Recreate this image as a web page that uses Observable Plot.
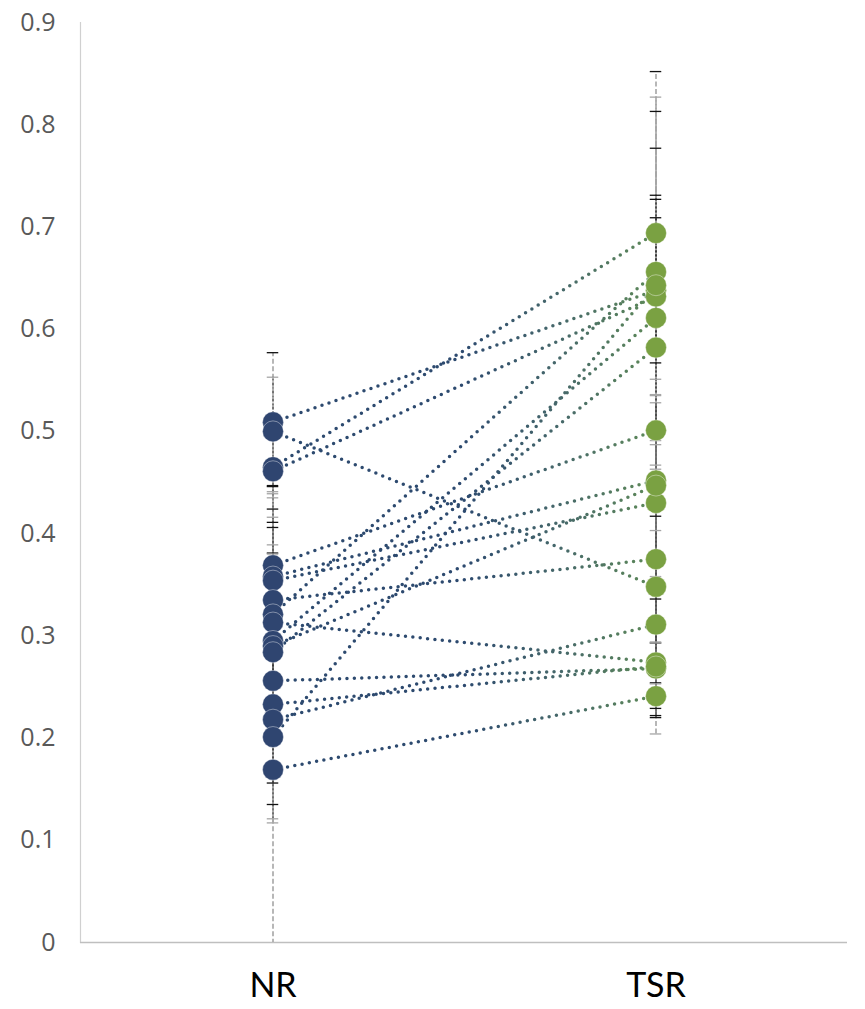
<!DOCTYPE html>
<html>
<head>
<meta charset="utf-8">
<script src="https://cdn.jsdelivr.net/npm/d3@7"></script>
<script src="https://cdn.jsdelivr.net/npm/@observablehq/plot@0.6"></script>
<style>
  html, body { margin: 0; padding: 0; background: #fff; }
  #chart { width: 865px; height: 1009px; }
</style>
</head>
<body>
<div id="chart"></div>
<script>
const categories = ["NR", "TSR"];
const yTicks = [0, 0.1, 0.2, 0.3, 0.4, 0.5, 0.6, 0.7, 0.8, 0.9];

// paired values (one entry per subject)
const nrValues  = [0.509, 0.500, 0.465, 0.461, 0.369, 0.358, 0.354, 0.335, 0.321, 0.313, 0.295, 0.290, 0.284, 0.256, 0.233, 0.218, 0.201, 0.169];
const tsrValues = [0.638, 0.348, 0.694, 0.632, 0.501, 0.452, 0.430, 0.375, 0.656, 0.274, 0.611, 0.447, 0.582, 0.268, 0.270, 0.311, 0.643, 0.241];

// error bar half-widths
const nrErr  = [0.068, 0.053, 0.030, 0.050, 0.077, 0.081, 0.070, 0.081, 0.085, 0.076, 0.086, 0.090, 0.070, 0.100, 0.116, 0.083, 0.080, 0.200];
const tsrErr = [0.175, 0.055, 0.158, 0.195, 0.226, 0.035, 0.137, 0.153, 0.121, 0.020, 0.120, 0.104, 0.115, 0.048, 0.066, 0.047, 0.066, 0.012];

const pairs = nrValues.map((v, i) => ({nr: v, tsr: tsrValues[i]}));
const points = [
  ...nrValues.map((v, i) => ({cat: categories[0], v, e: nrErr[i]})),
  ...tsrValues.map((v, i) => ({cat: categories[1], v, e: tsrErr[i]}))
];
const caps = points.flatMap((d, i) => [
  {cat: d.cat, y: d.v + d.e, k: i},
  {cat: d.cat, y: d.v - d.e, k: i + 1}
]).filter(d => d.y >= 0 && d.y <= 0.9);

const NRCOL = "#2F4570";
const TSRCOL = "#7AA142";
const W = 865, ML = 80, MR = 18;
const capHalf = 6;
const bandW = (W - ML - MR) / categories.length;
const capInset = bandW / 2 - capHalf;

const chart = Plot.plot({
  width: W,
  height: 1009,
  marginLeft: ML,
  marginRight: MR,
  marginTop: 22,
  marginBottom: 67,
  style: {fontFamily: "Lato, 'Open Sans', sans-serif", background: "#fff"},
  x: {type: "band", domain: categories, padding: 0, label: null},
  y: {domain: [0, 0.9], label: null},
  marks: [
    Plot.frame({anchor: "left", stroke: "#d0d0d0", strokeWidth: 1.2}),
    Plot.ruleY([0], {stroke: "#bfbfbf", strokeWidth: 1.3}),
    Plot.axisY({ticks: yTicks, tickSize: 0, tickPadding: 25, fontSize: 25, fill: "#595959",
      fontFamily: "'Open Sans', sans-serif",
      tickFormat: d => d === 0 ? "0" : d3.format(".1f")(d), label: null}),
    Plot.axisX({tickSize: 0, tickPadding: 30, fontSize: 34, fill: "#000", label: null}),
    // error bars
    Plot.ruleX(points, {x: "cat", y1: d => d.v - d.e, y2: d => d.v + d.e,
      stroke: "#a6a6a6", strokeWidth: 1.6, strokeDasharray: "5,2.5", clip: true}),
    Plot.ruleX(points.filter((d, i) => i % 3 === 1), {x: "cat", y1: d => d.v - d.e, y2: d => d.v + d.e,
      stroke: "#222", strokeWidth: 0.8, strokeDasharray: "2,2", clip: true}),
    Plot.tickY(caps, {x: "cat", y: "y", insetLeft: capInset, insetRight: capInset,
      stroke: d => d.k % 2 ? "#a6a6a6" : "#111", strokeWidth: 1.3}),
    // connecting dotted lines
    Plot.link(pairs, {x1: () => categories[0], y1: "nr", x2: () => categories[1], y2: "tsr",
      stroke: "#4F7463", ariaLabel: "pairlinks",
      strokeWidth: 3.5, strokeDasharray: "0,7.4", strokeLinecap: "round"}),
    // markers
    Plot.dot(pairs, {x: () => categories[0], y: "nr", r: 10.5, fill: NRCOL, stroke: "#fff", strokeWidth: 0.4}),
    Plot.dot(pairs, {x: () => categories[1], y: "tsr", r: 10.5, fill: TSRCOL, stroke: "#fff", strokeWidth: 0.4})
  ]
});

// horizontal gradient along the x scale (blue at NR to green at TSR)
const xs = chart.scale("x");
const [r0, r1] = xs.range || [ML, W - MR];
const step = (r1 - r0) / categories.length;
const gx1 = r0 + 0.5 * step;
const gx2 = r0 + 1.5 * step;
const ns = "http://www.w3.org/2000/svg";
const defs = document.createElementNS(ns, "defs");
const grad = document.createElementNS(ns, "linearGradient");
grad.setAttribute("id", "pairGrad");
grad.setAttribute("gradientUnits", "userSpaceOnUse");
grad.setAttribute("x1", String(gx1));
grad.setAttribute("x2", String(gx2));
grad.setAttribute("y1", "0");
grad.setAttribute("y2", "0");
[["0", "#2D4A6F"], ["0.25", "#46686A"], ["0.5", "#5E8A58"], ["0.8", "#72A145"], ["1", "#7EAE3C"]].forEach(([o, c]) => {
  const s = document.createElementNS(ns, "stop");
  s.setAttribute("offset", o);
  s.setAttribute("stop-color", c);
  grad.appendChild(s);
});
defs.appendChild(grad);
chart.insertBefore(defs, chart.firstChild);
chart.querySelectorAll("g").forEach(g => {
  if (g.getAttribute("aria-label") === "pairlinks" || g.getAttribute("aria-label") === "link") {
    g.setAttribute("stroke", "url(#pairGrad)");
    g.querySelectorAll("path, line").forEach(p => p.setAttribute("stroke", "url(#pairGrad)"));
  }
});

document.getElementById("chart").appendChild(chart);
</script>
</body>
</html>
